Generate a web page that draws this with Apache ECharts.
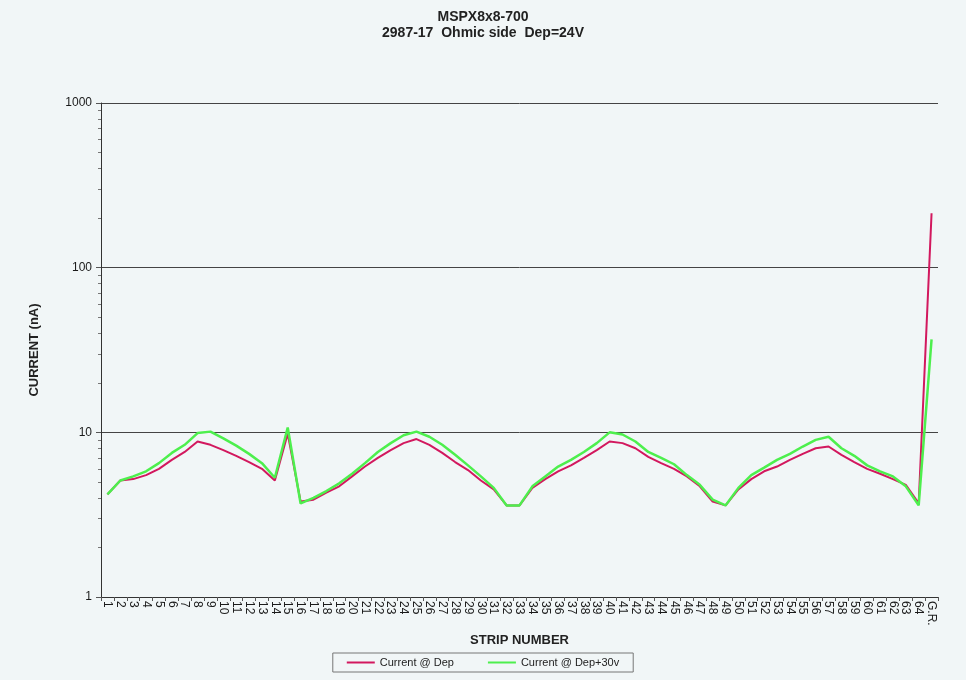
<!DOCTYPE html>
<html>
<head>
<meta charset="utf-8">
<script src="https://cdn.jsdelivr.net/npm/echarts@6/dist/echarts.min.js"></script>
<style>
html,body{margin:0;padding:0;background:#f1f6f7;}
#chart{width:966px;height:680px;}
</style>
</head>
<body>
<div id="chart"></div>
<script>
const titleLines = ['MSPX8x8-700', '2987-17  Ohmic side  Dep=24V'];
const categories = [];
for (let i = 1; i <= 64; i++) categories.push(String(i));
categories.push('G.R.');

const seriesNames = ['Current @ Dep', 'Current @ Dep+30v'];

const currentDep = [
  4.2, 5.1, 5.2, 5.5, 6.0, 6.8, 7.6, 8.8, 8.4, 7.8,
  7.2, 6.6, 6.0, 5.1, 9.8, 3.8, 3.9, 4.3, 4.7, 5.4,
  6.2, 7.0, 7.8, 8.6, 9.1, 8.4, 7.5, 6.6, 5.9, 5.1,
  4.5, 3.6, 3.6, 4.6, 5.2, 5.8, 6.3, 7.0, 7.8, 8.8,
  8.6, 8.0, 7.1, 6.5, 6.0, 5.4, 4.7, 3.8, 3.6, 4.5,
  5.2, 5.8, 6.2, 6.8, 7.4, 8.0, 8.2, 7.3, 6.6, 6.0,
  5.6, 5.2, 4.8, 3.7, 214
];
const currentDep30 = [
  4.2, 5.1, 5.4, 5.8, 6.5, 7.5, 8.4, 9.9, 10.1, 9.2,
  8.3, 7.4, 6.5, 5.3, 10.7, 3.7, 4.0, 4.4, 4.9, 5.6,
  6.5, 7.6, 8.6, 9.6, 10.1, 9.4, 8.4, 7.3, 6.3, 5.4,
  4.6, 3.6, 3.6, 4.7, 5.4, 6.2, 6.8, 7.6, 8.6, 10.0,
  9.7, 8.8, 7.6, 7.0, 6.4, 5.5, 4.8, 3.9, 3.6, 4.6,
  5.5, 6.1, 6.8, 7.4, 8.2, 9.0, 9.4, 8.0, 7.2, 6.3,
  5.8, 5.4, 4.7, 3.6, 36.7
];
const yTicks = [1, 10, 100, 1000];

const chart = echarts.init(document.getElementById('chart'));
const font = 'Liberation Sans, Arial, sans-serif';
chart.setOption({
  backgroundColor: '#f1f6f7',
  animation: false,
  title: {
    text: titleLines.join('\n'),
    left: 'center',
    top: 4,
    textStyle: { fontFamily: font, fontSize: 14, fontWeight: 'bold', color: '#222', lineHeight: 16 }
  },
  legend: {
    data: seriesNames,
    bottom: 8,
    left: 'center',
    itemWidth: 28,
    itemHeight: 2,
    itemGap: 34,
    icon: 'rect',
    borderColor: '#777',
    borderWidth: 1,
    padding: [4, 14],
    textStyle: { fontFamily: font, fontSize: 11, color: '#222' }
  },
  grid: { left: 101, right: 28, top: 103, bottom: 83, containLabel: false },
  xAxis: {
    type: 'category',
    data: categories,
    boundaryGap: true,
    name: 'STRIP NUMBER',
    nameLocation: 'middle',
    nameGap: 36,
    nameTextStyle: { fontFamily: font, fontSize: 13, fontWeight: 'bold', color: '#222' },
    axisLine: { lineStyle: { color: '#333', width: 1 } },
    axisTick: { show: true, length: 4, lineStyle: { color: '#555' } },
    axisLabel: { interval: 0, rotate: -90, fontFamily: font, fontSize: 12, color: '#1a1a1a', margin: 4 },
    splitLine: { show: false }
  },
  yAxis: {
    type: 'log',
    logBase: 10,
    min: yTicks[0],
    max: yTicks[yTicks.length - 1],
    name: 'CURRENT (nA)',
    nameLocation: 'middle',
    nameGap: 60,
    nameTextStyle: { fontFamily: font, fontSize: 13, fontWeight: 'bold', color: '#222' },
    axisLine: { show: true, lineStyle: { color: '#333', width: 1 } },
    axisTick: { show: true, length: 5, lineStyle: { color: '#555' } },
    minorTick: { show: true, splitNumber: 9, length: 3, lineStyle: { color: '#777' } },
    axisLabel: { fontFamily: font, fontSize: 12, color: '#1a1a1a', margin: 9, formatter: function (v) { return String(v); } },
    splitLine: { show: true, lineStyle: { color: '#444', width: 1 } }
  },
  series: [
    {
      name: seriesNames[0],
      type: 'line',
      data: currentDep,
      symbol: 'none',
      lineStyle: { color: '#d2185e', width: 2 },
      itemStyle: { color: '#d2185e' }
    },
    {
      name: seriesNames[1],
      type: 'line',
      data: currentDep30,
      symbol: 'none',
      lineStyle: { color: '#4def4d', width: 2.5 },
      itemStyle: { color: '#4def4d' }
    }
  ]
});
</script>
</body>
</html>
